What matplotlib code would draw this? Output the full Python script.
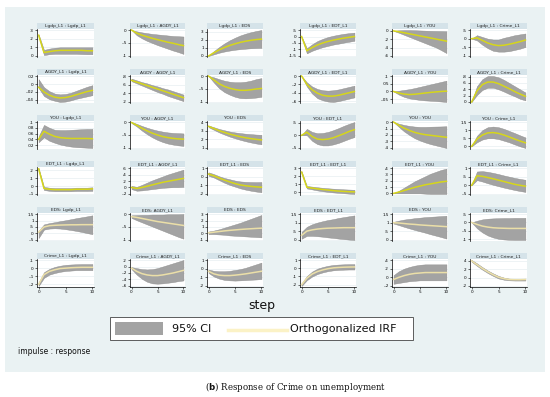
import re
import matplotlib
matplotlib.use("Agg")
import matplotlib.pyplot as plt
from matplotlib.patches import Rectangle
from matplotlib.lines import Line2D

# Impulse-response functions, steps 0..10
steps = list(range(11))

titles = [
    ["Lgdp_L1 : Lgdp_L1", "Lgdp_L1 : AGDY_L1", "Lgdp_L1 : EDS", "Lgdp_L1 : EDT_L1", "Lgdp_L1 : YOU", "Lgdp_L1 : Crime_L1"],
    ["AGDY_L1 : Lgdp_L1", "AGDY : AGDY_L1", "AGDY_L1 : EDS", "AGDY_L1 : EDT_L1", "AGDY_L1 : YOU", "AGDY_L1 : Crime_L1"],
    ["YOU : Lgdp_L1", "YOU : AGDY_L1", "YOU : EDS", "YOU : EDT_L1", "YOU : YOU", "YOU : Crime_L1"],
    ["EDT_L1 : Lgdp_L1", "EDT_L1 : AGDY_L1", "EDT_L1 : EDS", "EDT_L1 : EDT_L1", "EDT_L1 : YOU", "EDT_L1 : Crime_L1"],
    ["EDS: Lgdp_L1", "EDS: AGDY_L1", "EDS : EDS", "EDS : EDT_L1", "EDS : YOU", "EDS: Crime_L1"],
    ["Crime_L1 : Lgdp_L1", "Crime_L1 : AGDY_L1", "Crime_L1 : EDS", "Crime_L1 : EDT_L1", "Crime_L1 : YOU", "Crime_L1 : Crime_L1"],
]

# impulse Lgdp_L1
lgdp_irf = [
    [0.24, 0.04, 0.05, 0.06, 0.065, 0.065, 0.065, 0.065, 0.065, 0.06, 0.06],
    [0, -0.12, -0.2, -0.26, -0.32, -0.37, -0.42, -0.47, -0.51, -0.56, -0.6],
    [0, 0.4, 0.75, 1.05, 1.3, 1.5, 1.68, 1.82, 1.93, 2.02, 2.08],
    [0, -1.1, -0.85, -0.65, -0.5, -0.38, -0.28, -0.2, -0.12, -0.06, 0.0],
    [0, -0.2, -0.45, -0.7, -0.95, -1.2, -1.45, -1.7, -1.95, -2.2, -2.45],
    [0, 0.05, -0.1, -0.25, -0.35, -0.4, -0.38, -0.32, -0.25, -0.17, -0.08],
]
lgdp_lo = [
    [0.23, 0.01, 0.02, 0.025, 0.025, 0.025, 0.025, 0.025, 0.022, 0.02, 0.02],
    [0, -0.2, -0.32, -0.42, -0.5, -0.58, -0.65, -0.72, -0.79, -0.85, -0.92],
    [0, 0.2, 0.4, 0.55, 0.67, 0.77, 0.84, 0.9, 0.95, 0.98, 1.0],
    [0, -1.3, -1.1, -0.95, -0.82, -0.72, -0.62, -0.55, -0.47, -0.4, -0.33],
    [0, -0.45, -0.95, -1.45, -1.95, -2.45, -2.95, -3.45, -3.95, -4.6, -5.3],
    [0, -0.1, -0.35, -0.55, -0.7, -0.75, -0.75, -0.72, -0.65, -0.58, -0.48],
]
lgdp_hi = [
    [0.25, 0.07, 0.085, 0.095, 0.1, 0.1, 0.1, 0.1, 0.1, 0.1, 0.1],
    [0, -0.05, -0.09, -0.12, -0.15, -0.17, -0.19, -0.21, -0.23, -0.24, -0.25],
    [0, 0.6, 1.1, 1.55, 1.93, 2.25, 2.53, 2.75, 2.93, 3.08, 3.2],
    [0, -0.9, -0.6, -0.35, -0.18, -0.04, 0.06, 0.14, 0.21, 0.26, 0.3],
    [0, 0.15, 0.2, 0.2, 0.15, 0.1, 0.05, 0.0, -0.03, -0.06, -0.1],
    [0, 0.2, 0.1, 0.0, -0.05, -0.05, 0.05, 0.12, 0.2, 0.25, 0.3],
]
lgdp_ticks = [[0, 0.1, 0.2, 0.3], [-1, -0.5, 0], [0, 1, 2, 3],
              [-1.5, -1, -0.5, 0, 0.5], [-6, -4, -2, 0], [-1, -0.5, 0, 0.5]]

# impulse AGDY_L1
agdy_irf = [
    [-0.008, -0.02, -0.028, -0.033, -0.035, -0.034, -0.031, -0.027, -0.023, -0.019, -0.016],
    [0.7, 0.66, 0.62, 0.58, 0.54, 0.5, 0.46, 0.42, 0.38, 0.34, 0.3],
    [0, -0.15, -0.3, -0.4, -0.47, -0.52, -0.55, -0.55, -0.53, -0.5, -0.48],
    [0, -0.2, -0.33, -0.41, -0.46, -0.48, -0.48, -0.46, -0.43, -0.4, -0.37],
    [0, -0.01, -0.017, -0.02, -0.018, -0.014, -0.01, -0.006, -0.003, 0, 0.002],
    [0, 0.35, 0.55, 0.63, 0.63, 0.58, 0.5, 0.42, 0.33, 0.25, 0.18],
]
agdy_lo = [
    [-0.01, -0.03, -0.038, -0.042, -0.045, -0.044, -0.041, -0.037, -0.034, -0.031, -0.028],
    [0.68, 0.63, 0.58, 0.53, 0.48, 0.43, 0.39, 0.34, 0.3, 0.26, 0.22],
    [0, -0.25, -0.47, -0.62, -0.72, -0.8, -0.85, -0.86, -0.85, -0.83, -0.8],
    [0, -0.25, -0.42, -0.53, -0.58, -0.61, -0.62, -0.6, -0.57, -0.54, -0.51],
    [0, -0.02, -0.035, -0.045, -0.05, -0.055, -0.058, -0.06, -0.062, -0.065, -0.068],
    [0, 0.22, 0.38, 0.45, 0.45, 0.4, 0.33, 0.25, 0.18, 0.1, 0.05],
]
agdy_hi = [
    [0.012, -0.008, -0.018, -0.024, -0.026, -0.025, -0.022, -0.017, -0.012, -0.007, -0.003],
    [0.74, 0.7, 0.66, 0.63, 0.59, 0.56, 0.52, 0.49, 0.45, 0.41, 0.37],
    [0, -0.05, -0.12, -0.18, -0.22, -0.24, -0.24, -0.22, -0.18, -0.12, -0.08],
    [0, -0.15, -0.25, -0.31, -0.34, -0.35, -0.34, -0.32, -0.29, -0.26, -0.23],
    [0, 0.005, 0.01, 0.015, 0.022, 0.03, 0.038, 0.046, 0.054, 0.062, 0.07],
    [0, 0.5, 0.72, 0.82, 0.82, 0.78, 0.7, 0.6, 0.5, 0.4, 0.3],
]
agdy_ticks = [[-0.04, -0.02, 0, 0.02], [0.2, 0.4, 0.6, 0.8], [-1, -0.5, 0],
              [-0.6, -0.4, -0.2, 0], [-0.05, 0, 0.05, 0.1], [0, 0.2, 0.4, 0.6, 0.8]]

# impulse YOU
you_irf = [
    [0.04, 0.068, 0.058, 0.05, 0.046, 0.044, 0.043, 0.043, 0.043, 0.043, 0.042],
    [-0.02, -0.12, -0.24, -0.34, -0.43, -0.5, -0.56, -0.6, -0.63, -0.65, -0.66],
    [3.5, 3.25, 3.0, 2.8, 2.6, 2.45, 2.3, 2.18, 2.08, 2.0, 1.93],
    [0, 0.12, -0.05, -0.15, -0.17, -0.15, -0.1, -0.02, 0.06, 0.15, 0.22],
    [0, -0.5, -0.95, -1.3, -1.6, -1.8, -1.95, -2.05, -2.15, -2.25, -2.35],
    [0, 0.45, 0.7, 0.83, 0.85, 0.8, 0.7, 0.58, 0.45, 0.33, 0.22],
]
you_lo = [
    [0.03, 0.047, 0.035, 0.028, 0.022, 0.018, 0.015, 0.013, 0.012, 0.011, 0.01],
    [-0.04, -0.17, -0.33, -0.47, -0.59, -0.69, -0.77, -0.83, -0.87, -0.9, -0.92],
    [3.4, 3.1, 2.8, 2.55, 2.32, 2.12, 1.94, 1.78, 1.64, 1.52, 1.42],
    [0, 0.0, -0.22, -0.35, -0.4, -0.4, -0.36, -0.3, -0.22, -0.14, -0.07],
    [0, -0.75, -1.45, -2.0, -2.5, -2.85, -3.15, -3.4, -3.6, -3.8, -4.0],
    [0, 0.25, 0.42, 0.5, 0.5, 0.45, 0.35, 0.25, 0.12, 0.0, -0.1],
]
you_hi = [
    [0.05, 0.09, 0.08, 0.073, 0.072, 0.072, 0.073, 0.074, 0.075, 0.076, 0.076],
    [0, -0.07, -0.15, -0.22, -0.28, -0.33, -0.37, -0.4, -0.42, -0.43, -0.44],
    [3.6, 3.4, 3.2, 3.05, 2.9, 2.8, 2.72, 2.65, 2.6, 2.55, 2.52],
    [0, 0.25, 0.13, 0.08, 0.09, 0.13, 0.2, 0.28, 0.37, 0.45, 0.52],
    [0, -0.25, -0.45, -0.6, -0.7, -0.75, -0.75, -0.72, -0.7, -0.68, -0.65],
    [0, 0.65, 1.0, 1.18, 1.22, 1.18, 1.08, 0.95, 0.82, 0.68, 0.55],
]
you_ticks = [[0.02, 0.04, 0.06, 0.08, 0.1], [-1, -0.5, 0], [1, 2, 3, 4],
             [-0.5, 0, 0.5], [-4, -3, -2, -1, 0], [0, 0.5, 1, 1.5]]

# impulse EDT_L1
edt_irf = [
    [0.22, -0.03, -0.04, -0.045, -0.045, -0.045, -0.045, -0.04, -0.04, -0.04, -0.035],
    [0, -0.03, 0.0, 0.04, 0.08, 0.12, 0.16, 0.19, 0.22, 0.25, 0.28],
    [0.3, 0.1, -0.15, -0.4, -0.6, -0.8, -0.95, -1.05, -1.12, -1.18, -1.22],
    [2.5, 0.6, 0.5, 0.4, 0.32, 0.25, 0.18, 0.12, 0.08, 0.04, 0.02],
    [0, 0.02, 0.045, 0.07, 0.095, 0.115, 0.135, 0.15, 0.165, 0.18, 0.19],
    [0, 0.55, 0.52, 0.45, 0.38, 0.3, 0.22, 0.14, 0.06, 0.0, -0.05],
]
edt_lo = [
    [0.21, -0.05, -0.06, -0.065, -0.065, -0.065, -0.065, -0.062, -0.062, -0.062, -0.06],
    [-0.05, -0.1, -0.09, -0.07, -0.05, -0.03, -0.01, 0.0, 0.01, 0.01, 0.02],
    [0.1, -0.1, -0.4, -0.7, -0.95, -1.15, -1.35, -1.5, -1.62, -1.72, -1.8],
    [2.4, 0.45, 0.33, 0.2, 0.1, 0.02, -0.05, -0.1, -0.15, -0.2, -0.24],
    [0, 0.0, 0.0, 0.0, 0.0, 0.0, -0.005, -0.01, -0.01, -0.01, -0.01],
    [0, 0.3, 0.22, 0.12, 0.03, -0.05, -0.13, -0.2, -0.27, -0.33, -0.38],
]
edt_hi = [
    [0.23, -0.01, -0.02, -0.025, -0.025, -0.025, -0.025, -0.02, -0.02, -0.02, -0.015],
    [0.05, 0.02, 0.08, 0.15, 0.22, 0.28, 0.34, 0.4, 0.45, 0.5, 0.55],
    [0.5, 0.3, 0.05, -0.15, -0.3, -0.45, -0.55, -0.6, -0.62, -0.63, -0.62],
    [2.6, 0.75, 0.68, 0.6, 0.53, 0.47, 0.42, 0.38, 0.34, 0.31, 0.28],
    [0, 0.04, 0.09, 0.14, 0.19, 0.23, 0.27, 0.31, 0.34, 0.37, 0.39],
    [0, 0.8, 0.82, 0.78, 0.72, 0.65, 0.57, 0.5, 0.43, 0.37, 0.32],
]
edt_ticks = [[-0.1, 0, 0.1, 0.2], [-0.2, 0, 0.2, 0.4, 0.6], [-2, -1, 0, 1],
             [0, 1, 2, 3], [0, 0.1, 0.2, 0.3, 0.4], [-0.5, 0, 0.5, 1]]

# impulse EDS
eds_irf = [
    [0.1, 0.5, 0.6, 0.63, 0.65, 0.66, 0.67, 0.67, 0.68, 0.68, 0.68],
    [-0.1, -0.13, -0.17, -0.21, -0.25, -0.29, -0.32, -0.35, -0.38, -0.41, -0.44],
    [0.1, 0.2, 0.3, 0.4, 0.48, 0.55, 0.62, 0.68, 0.73, 0.78, 0.82],
    [0.25, 0.5, 0.57, 0.62, 0.65, 0.67, 0.68, 0.69, 0.7, 0.7, 0.7],
    [1.0, 0.98, 0.95, 0.92, 0.9, 0.87, 0.85, 0.83, 0.81, 0.79, 0.77],
    [0, -0.12, -0.22, -0.28, -0.32, -0.34, -0.35, -0.36, -0.36, -0.36, -0.36],
]
eds_lo = [
    [-0.35, 0.3, 0.38, 0.4, 0.38, 0.33, 0.27, 0.2, 0.12, 0.03, -0.05],
    [-0.15, -0.24, -0.32, -0.4, -0.48, -0.56, -0.64, -0.72, -0.8, -0.88, -0.95],
    [-0.1, -0.1, -0.15, -0.2, -0.3, -0.35, -0.4, -0.45, -0.5, -0.55, -0.6],
    [0.05, 0.22, 0.22, 0.2, 0.17, 0.13, 0.1, 0.06, 0.03, 0.0, -0.02],
    [0.95, 0.86, 0.76, 0.67, 0.58, 0.5, 0.42, 0.33, 0.25, 0.17, 0.08],
    [0, -0.35, -0.6, -0.78, -0.9, -0.98, -1.02, -1.04, -1.05, -1.05, -1.05],
]
eds_hi = [
    [0.2, 0.7, 0.8, 0.87, 0.95, 1.02, 1.1, 1.18, 1.25, 1.32, 1.4],
    [-0.05, -0.04, -0.03, -0.03, -0.02, -0.02, -0.02, -0.01, -0.01, -0.01, 0.0],
    [0.3, 0.45, 0.65, 0.9, 1.15, 1.4, 1.65, 1.95, 2.25, 2.55, 2.85],
    [0.45, 0.75, 0.9, 1.0, 1.08, 1.15, 1.2, 1.27, 1.32, 1.37, 1.42],
    [1.05, 1.12, 1.18, 1.22, 1.26, 1.29, 1.32, 1.34, 1.36, 1.38, 1.4],
    [0, 0.1, 0.18, 0.22, 0.24, 0.25, 0.26, 0.26, 0.27, 0.27, 0.27],
]
eds_ticks = [[-0.5, 0, 0.5, 1, 1.5], [-1, -0.5, 0], [-1, 0, 1, 2, 3],
             [0, 0.5, 1, 1.5], [0, 0.5, 1, 1.5], [-1, -0.5, 0, 0.5]]

# impulse Crime_L1
crime_irf = [
    [-0.2, -0.08, -0.04, -0.02, -0.005, 0.0, 0.005, 0.008, 0.01, 0.01, 0.01],
    [-0.05, -0.15, -0.22, -0.26, -0.28, -0.28, -0.26, -0.23, -0.2, -0.16, -0.12],
    [-0.3, -0.6, -0.75, -0.8, -0.8, -0.75, -0.68, -0.6, -0.5, -0.4, -0.3],
    [-2.0, -1.2, -0.7, -0.4, -0.2, -0.05, 0.05, 0.1, 0.13, 0.15, 0.16],
    [-0.05, 0.0, 0.04, 0.07, 0.09, 0.1, 0.11, 0.11, 0.11, 0.11, 0.11],
    [4.0, 3.1, 2.2, 1.4, 0.7, 0.1, -0.25, -0.45, -0.5, -0.5, -0.45],
]
crime_lo = [
    [-0.22, -0.12, -0.08, -0.06, -0.045, -0.035, -0.03, -0.025, -0.025, -0.025, -0.025],
    [-0.08, -0.25, -0.38, -0.47, -0.52, -0.53, -0.52, -0.5, -0.48, -0.45, -0.43],
    [-0.5, -0.9, -1.15, -1.3, -1.35, -1.38, -1.35, -1.32, -1.28, -1.25, -1.2],
    [-2.15, -1.45, -1.0, -0.7, -0.5, -0.35, -0.25, -0.2, -0.17, -0.15, -0.15],
    [-0.15, -0.13, -0.11, -0.09, -0.08, -0.07, -0.07, -0.07, -0.07, -0.07, -0.07],
    [3.8, 2.8, 1.9, 1.1, 0.4, -0.2, -0.5, -0.65, -0.7, -0.7, -0.7],
]
crime_hi = [
    [-0.18, -0.05, -0.01, 0.015, 0.03, 0.04, 0.045, 0.048, 0.05, 0.05, 0.05],
    [-0.02, -0.05, -0.08, -0.09, -0.08, -0.05, 0.0, 0.05, 0.1, 0.15, 0.2],
    [-0.1, -0.25, -0.3, -0.3, -0.25, -0.15, -0.05, 0.1, 0.3, 0.5, 0.7],
    [-1.85, -0.95, -0.4, -0.05, 0.15, 0.3, 0.4, 0.45, 0.48, 0.5, 0.5],
    [0.05, 0.14, 0.2, 0.24, 0.27, 0.29, 0.3, 0.3, 0.3, 0.3, 0.3],
    [4.2, 3.4, 2.5, 1.7, 1.0, 0.4, 0.0, -0.25, -0.3, -0.3, -0.25],
]
crime_ticks = [[-0.2, -0.1, 0, 0.1], [-0.6, -0.4, -0.2, 0, 0.2], [-2, -1, 0, 1],
               [-2, -1, 0, 1], [-0.2, 0, 0.2, 0.4], [-2, 0, 2, 4]]

irf_rows = [lgdp_irf, agdy_irf, you_irf, edt_irf, eds_irf, crime_irf]
lo_rows = [lgdp_lo, agdy_lo, you_lo, edt_lo, eds_lo, crime_lo]
hi_rows = [lgdp_hi, agdy_hi, you_hi, edt_hi, eds_hi, crime_hi]
tick_rows = [lgdp_ticks, agdy_ticks, you_ticks, edt_ticks, eds_ticks, crime_ticks]
xticks = [0, 5, 10]


def stata_label(v):
    s = "%g" % v
    s = re.sub(r"^(-?)0\.", r"\1.", s)
    return s


W, H = 550, 397
fig = plt.figure(figsize=(W / 100, H / 100), dpi=100)
fig.patch.set_facecolor("white")

bg = "#EAF2F3"
band_col = "#D5E3E9"
ci_col = "#A3A3A3"

fig.patches.append(Rectangle((5 / W, 1 - 372 / H), 540 / W, 365 / H,
                             transform=fig.transFigure, facecolor=bg,
                             edgecolor="none", zorder=-5))

col_left = [37, 130, 207, 300, 392, 470]
col_right = [94, 185, 263, 356, 448, 527]

for r in range(6):
    top = 29 + 46 * r
    bot = 57 + 46 * r
    line_col = "#D6D61A" if r < 4 else "#EBDFA8"
    for c in range(6):
        l, rr = col_left[c], col_right[c]
        # title band above plot region
        fig.patches.append(Rectangle((l / W, 1 - top / H), (rr - l) / W, 6 / H,
                                     transform=fig.transFigure, facecolor=band_col,
                                     edgecolor="none", zorder=-4))
        fig.text((l + rr) / 2 / W, 1 - (top - 3) / H, titles[r][c], fontsize=3.2,
                 ha="center", va="center", color="#222222")
        ax = fig.add_axes([l / W, 1 - bot / H, (rr - l) / W, (bot - top) / H])
        ax.set_zorder(2)
        ax.set_facecolor("white")
        lo, hi, irf = lo_rows[r][c], hi_rows[r][c], irf_rows[r][c]
        ax.fill_between(steps, lo, hi, color=ci_col, lw=0.3, edgecolor="#8C8C8C", zorder=2)
        ax.plot(steps, irf, color=line_col, lw=1.1, zorder=3)
        ticks = tick_rows[r][c]
        ymin = min(min(lo), min(ticks))
        ymax = max(max(hi), max(ticks))
        pad = (ymax - ymin) * 0.04
        ax.set_ylim(ymin - pad, ymax + pad)
        ax.set_xlim(-0.3, 10.3)
        ax.set_yticks(ticks)
        ax.set_yticklabels([stata_label(t) for t in ticks])
        ax.tick_params(axis="y", labelsize=3, length=1.5, width=0.4, pad=0.8, colors="black")
        ax.grid(axis="y", color="#E2EBEE", lw=0.4, zorder=0)
        ax.set_axisbelow(True)
        for s in ["top", "right"]:
            ax.spines[s].set_visible(False)
        ax.spines["left"].set_linewidth(0.5)
        if r == 5:
            ax.set_xticks(xticks)
            ax.set_xticklabels([str(t) for t in xticks])
            ax.tick_params(axis="x", labelsize=3, length=1.5, width=0.4, pad=0.8)
            ax.spines["bottom"].set_linewidth(0.5)
        else:
            ax.set_xticks([])
            ax.spines["bottom"].set_visible(False)

fig.text(262 / W, 1 - 305 / H, "step", fontsize=9, ha="center", va="center", color="#111111")

# legend box
fig.patches.append(Rectangle((110 / W, 1 - 340 / H), 303 / W, 23 / H,
                             transform=fig.transFigure, facecolor="white",
                             edgecolor="#444444", lw=0.6, zorder=2))
fig.patches.append(Rectangle((115 / W, 1 - 335 / H), 48 / W, 13 / H,
                             transform=fig.transFigure, facecolor=ci_col,
                             edgecolor="none", zorder=3))
fig.text(172 / W, 1 - 328.5 / H, "95% CI", fontsize=8, ha="left", va="center", color="#111111")
fig.lines.append(Line2D([228 / W, 287 / W], [1 - 330 / H, 1 - 330 / H],
                        transform=fig.transFigure, color="#FBF2C6", lw=2.5, zorder=3))
fig.text(290 / W, 1 - 328.5 / H, "Orthogonalized IRF", fontsize=8, ha="left", va="center",
         color="#111111")

fig.text(18 / W, 1 - 352 / H, "impulse : response", fontsize=5.5, ha="left", va="center",
         color="#111111")

fig.text(296 / W, 1 - 387 / H, r"($\bf{b}$) Response of Crime on unemployment",
         fontsize=6.2, ha="center", va="center", family="DejaVu Serif", color="#111111")

fig.savefig("out.png", dpi=100)
